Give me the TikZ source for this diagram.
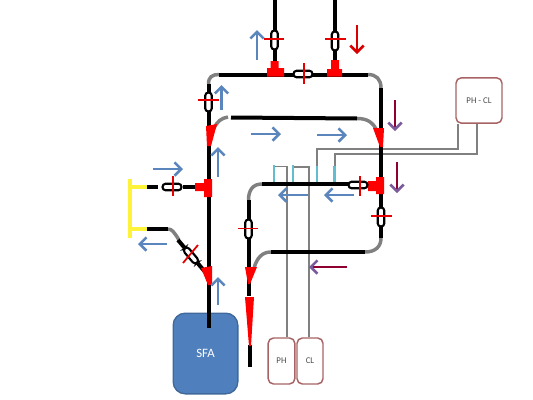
\documentclass[tikz,border=0pt]{standalone}
\usepackage{fontspec}
\setmainfont{Carlito}
\usetikzlibrary{arrows.meta}
\definecolor{flowblue}{HTML}{5B86BD}
\definecolor{flowpurple}{HTML}{7A5A9A}
\definecolor{boxedge}{HTML}{A86465}
\definecolor{wiregray}{HTML}{808080}
\definecolor{tubegray}{HTML}{808080}
\definecolor{sensor}{HTML}{62BDCE}
\definecolor{sfafill}{HTML}{4F7FBC}
\definecolor{sfaedge}{HTML}{41689A}
\definecolor{clamp}{HTML}{FFF23A}
\tikzset{
  pipe/.style={line width=3pt,black},
  tubebend/.style={line width=2.6pt,tubegray},
  wire/.style={line width=1pt,wiregray},
  probe/.style={line width=1.6pt,sensor},
  yel/.style={line width=2.6pt,clamp},
  crossline/.style={line width=1.3pt,red!90!black},
  redfill/.style={fill=red,draw=none},
  valveshape/.style={draw=black,line width=1.6pt,fill=white,rounded corners=2.4pt},
  flow/.style={line width=1.9pt,flowblue,-{Straight Barb[length=5pt,width=10pt,line width=1.9pt]}},
  redflow/.style={line width=1.9pt,red!85!black,-{Straight Barb[length=5pt,width=10pt,line width=1.9pt]}},
  mixflow/.style={line width=1.7pt,draw=purple!75!black,-{Straight Barb[length=5pt,width=10pt,line width=1.9pt,color=flowpurple]}},
  labelbox/.style={draw=boxedge,line width=1.1pt,fill=white,rounded corners=4pt,text=black!70,font=\fontsize{6.6}{7}\selectfont,inner sep=0pt},
}
\newcommand{\vvalve}[2]{%
  \draw[valveshape] (#1-3.3,#2-9.5) rectangle (#1+3.3,#2+9.5);}
\newcommand{\hvalve}[2]{%
  \draw[valveshape] (#1-9.5,#2-3.3) rectangle (#1+9.5,#2+3.3);}
\begin{document}
\begin{tikzpicture}[x=0.75pt,y=-0.75pt]
\useasboundingbox (0,0) rectangle (533,400);
% boxes
\node[draw=sfaedge,line width=1pt,fill=sfafill,rounded corners=9pt,minimum width=48.5pt,minimum height=60.5pt,text=white,font=\fontsize{9.6}{10}\selectfont,inner sep=0pt] (sfa) at (205.5,353.5) {SFA};
\node[labelbox,minimum width=20pt,minimum height=34.5pt] (ph) at (281.5,361) {PH};
\node[labelbox,minimum width=19.5pt,minimum height=34.5pt] (cl) at (310,361) {CL};
\node[labelbox,minimum width=34.5pt,minimum height=34pt] (phcl) at (479,100.5) {PH - CL};
\coordinate (wa) at (287,166.5);
\coordinate (wb) at (309,167);
\coordinate (wc) at (458,149);
\coordinate (wd) at (477,154);
% control wires
\draw[wire] (ph.north -| wa) -- (wa) -- (274,166.5);
\draw[wire] (cl.north -| wb) -- (wb) -- (293,167);
\draw[wire] (phcl.south -| wc) -- (wc) -- (317,149) -- (317,166);
\draw[wire] (phcl.south -| wd) -- (wd) -- (335,154) -- (335,166);
% probes
\draw[probe] (274,165) -- (274,183);
\draw[probe] (293,165) -- (293,183);
\draw[probe] (317,166) -- (317,183);
\draw[probe] (334.5,166) -- (334.5,183);
% gray tube bends
\draw[tubebend] (219,74.5) .. controls (212,74.5) and (208.5,77) .. (208.5,84);
\draw[tubebend] (368,74.5) .. controls (376,74.5) and (381,79) .. (381,88);
\draw[tubebend] (357,118.5) .. controls (367,118.5) and (373,122) .. (377,131);
\draw[tubebend] (228,117) .. controls (221,118) and (217,122) .. (214,128);
\draw[tubebend] (262,184) .. controls (253,184) and (248.5,190) .. (248.5,200);
\draw[tubebend] (381,238) .. controls (381,247) and (375,252) .. (365,252);
\draw[tubebend] (271,252) .. controls (262,252) and (257,258) .. (254,268);
\draw[tubebend] (168,229) .. controls (172,229) and (174,232) .. (179,240);
% main tubing
\draw[pipe] (274.5,0) -- (274.5,62);
\draw[pipe] (335,0) -- (335,62);
\draw[pipe] (219,74.5) -- (368,74.5);
\draw[pipe] (381,88) -- (381,238);
\draw[pipe] (231,117.5) -- (357,118.5);
\draw[pipe] (208.5,84) -- (208.5,328);
\draw[pipe] (262,184) -- (350,184);
\draw[pipe] (271,252) -- (365,252);
\draw[pipe] (248.5,200) -- (248.5,296);
\draw[pipe] (250,345) -- (250,367);
\draw[pipe] (147,187) -- (158,187);
\draw[pipe] (183,187) -- (197,187);
\draw[pipe] (147,229) -- (168,229);
\draw[pipe] (178,240) -- (206,273);
% clamp
\draw[yel] (130,179) -- (130,238);
\draw[yel] (130,187) -- (147,187);
\draw[yel] (130,229) -- (147,229);
% red connectors
\fill[redfill] (270.5,61) rectangle (278.5,70) (267,68) rectangle (284,76.5);
\fill[redfill] (331,60) rectangle (339,70) (327,69) rectangle (342,76.5);
\fill[redfill] (368,181) rectangle (384,191) (376,177) rectangle (384,194);
\fill[redfill] (195,183) rectangle (211,191) (204,179) rectangle (212,197);
\fill[redfill] (373,128) -- (384,128) -- (383,147) -- (380,147) -- cycle;
\fill[redfill] (206,126) -- (217,124) -- (211,146) -- (207,146) -- cycle;
\fill[redfill] (201,268) -- (212,266) -- (212,285) -- (208,285) -- cycle;
\fill[redfill] (245,267) -- (257,267) -- (250,284) -- (248,284) -- cycle;
\fill[redfill] (245,297) -- (254,297) -- (251,346) -- (249,346) -- cycle;
% valves
\vvalve{274.5}{40}
\vvalve{335}{41}
\hvalve{303}{74}
\vvalve{208.5}{102}
\hvalve{172}{187}
\hvalve{358}{185}
\vvalve{381}{217}
\vvalve{248.5}{229}
\draw[valveshape,rotate around={-50:(191,255.5)}] (181.5,252.5) rectangle (200.5,258.5);
% cross marks
\draw[crossline] (264,39) -- (284,39);
\draw[crossline] (325,39) -- (346,39);
\draw[crossline] (304,63) -- (304,84);
\draw[crossline] (198,100) -- (219,100);
\draw[crossline] (173,176) -- (173,196);
\draw[crossline] (360,176) -- (360,196);
\draw[crossline] (371,216) -- (392,216);
\draw[crossline] (238,228.5) -- (258,228.5);
\draw[crossline] (183,263) -- (198,245);
% flow arrows
\draw[flow] (257,60) -- (257,30);
\draw[flow] (221.5,110) -- (221.5,85);
\draw[flow] (218,177) -- (218,147);
\draw[flow] (218,305) -- (218,277);
\draw[flow] (251,134) -- (281,134);
\draw[flow] (317,135) -- (347,135);
\draw[flow] (153,169) -- (183,169);
\draw[flow] (167,244) -- (138,244);
\draw[flow] (308,195) -- (278,195);
\draw[flow] (354,195) -- (324,195);
\draw[redflow] (357,25) -- (357,54);
\draw[mixflow] (395,100) -- (395,131);
\draw[mixflow] (397,162) -- (397,193);
\draw[mixflow] (347,267) -- (309,267);
\end{tikzpicture}
\end{document}
